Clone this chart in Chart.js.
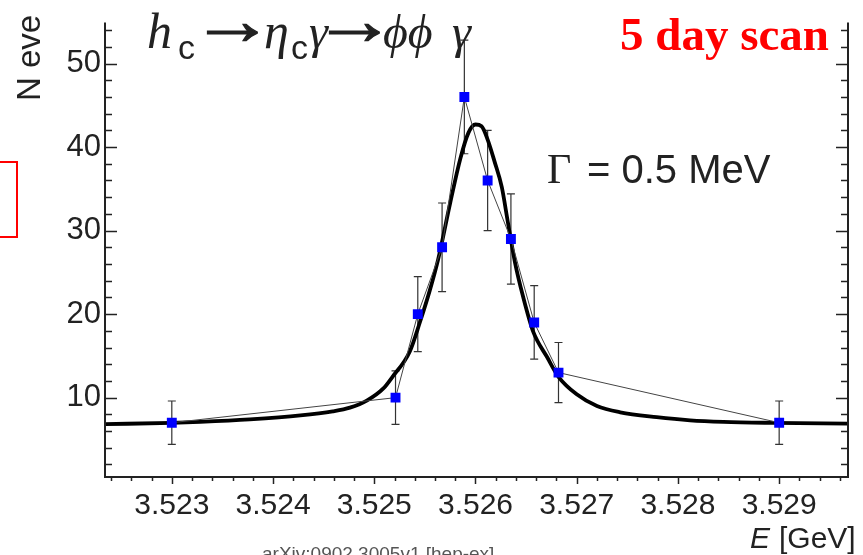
<!DOCTYPE html>
<html>
<head>
<meta charset="utf-8">
<script src="https://cdn.jsdelivr.net/npm/chart.js@4.4.1/dist/chart.umd.min.js"></script>
<style>
  html, body { margin: 0; padding: 0; background: #fff; }
  canvas { display: block; }
</style>
</head>
<body>
<canvas id="c" width="863" height="555"></canvas>
<script>
// measured scan points (E in GeV, events, error)
const scanE = [3.5230, 3.52521, 3.52543, 3.52567, 3.52589, 3.52612, 3.52635, 3.52658, 3.52682, 3.5290];
const scanN = [7, 10, 20, 28, 46, 36, 29, 19, 13, 7];
const scanErr = [2.6, 3.2, 4.5, 5.3, 6.8, 6.0, 5.4, 4.4, 3.6, 2.6];

// fitted line shape
const fitE = [3.52234, 3.52300, 3.52328, 3.52377, 3.52427, 3.52459, 3.52476, 3.52493, 3.52509, 3.52518,
              3.52535, 3.52545, 3.52555, 3.52563, 3.52575, 3.52585, 3.52593, 3.52600, 3.52606, 3.52612,
              3.52619, 3.52626, 3.52632, 3.52639, 3.52647, 3.52657, 3.52671, 3.52682, 3.52700, 3.52720,
              3.52743, 3.52779, 3.52812, 3.52845, 3.52894, 3.52968];
const fitN = [6.83, 6.98, 7.1, 7.4, 7.87, 8.36, 8.8, 9.67, 11.1, 12.5,
              15.5, 19.0, 22.9, 26.5, 33.3, 38.6, 41.7, 42.7, 42.5, 40.9,
              38.2, 35.2, 31.0, 26.2, 22.1, 17.9, 14.8, 12.5, 10.4, 9.0,
              8.25, 7.67, 7.29, 7.1, 6.98, 6.88];

const xTicks = [3.523, 3.524, 3.525, 3.526, 3.527, 3.528, 3.529];
const yTicks = [10, 20, 30, 40, 50];

const SANS = '"Liberation Sans", Arial, sans-serif';
const SERIF = '"Liberation Serif", "Times New Roman", serif';

function arrow(ctx, x0, w, base) {
    ctx.font = '46px ' + SERIF;
    const m = ctx.measureText('\u2192');
    const gw = m.actualBoundingBoxRight + m.actualBoundingBoxLeft;
    ctx.save();
    ctx.translate(x0, base);
    ctx.scale(w / gw, 1.5);
    ctx.lineWidth = 0.8;
    ctx.strokeStyle = ctx.fillStyle;
    ctx.fillText('\u2192', m.actualBoundingBoxLeft, 0);
    ctx.strokeText('\u2192', m.actualBoundingBoxLeft, 0);
    ctx.restore();
}

const decor = {
    id: 'decor',
    beforeDatasetsDraw(chart) {
        const { ctx, scales: { x, y } } = chart;
        ctx.save();
        ctx.strokeStyle = '#333';
        ctx.lineWidth = 1.2;
        scanE.forEach((e, i) => {
            const px = x.getPixelForValue(e);
            const top = y.getPixelForValue(scanN[i] + scanErr[i]);
            const bot = y.getPixelForValue(scanN[i] - scanErr[i]);
            ctx.beginPath();
            ctx.moveTo(px, top); ctx.lineTo(px, bot);
            ctx.moveTo(px - 4, top); ctx.lineTo(px + 4, top);
            ctx.moveTo(px - 4, bot); ctx.lineTo(px + 4, bot);
            ctx.stroke();
        });
        ctx.restore();
    },
    afterDraw(chart) {
        const { ctx, chartArea: a, scales: { x, y } } = chart;
        ctx.save();

        // frame
        ctx.strokeStyle = '#222';
        ctx.lineWidth = 2;
        ctx.beginPath();
        ctx.moveTo(a.left, a.top); ctx.lineTo(a.left, a.bottom); ctx.lineTo(a.right, a.bottom); ctx.lineTo(a.right, a.top);
        ctx.stroke();

        // y ticks, inside on both sides
        ctx.lineWidth = 1.5;
        for (let v = 2; v <= 54; v += 2) {
            const py = Math.round(y.getPixelForValue(v)) + 0.5;
            const len = v % 10 === 0 ? 12 : 7;
            ctx.beginPath();
            ctx.moveTo(a.left, py); ctx.lineTo(a.left + len, py);
            ctx.moveTo(a.right, py); ctx.lineTo(a.right - len, py);
            ctx.stroke();
        }
        // x ticks, below the axis
        for (let k = 0; k <= 37; k++) {
            const v = 3.5224 + k * 0.0002;
            if (v > x.max) break;
            const px = Math.round(x.getPixelForValue(v)) + 0.5;
            const major = Math.abs(v * 1000 - Math.round(v * 1000)) < 1e-6;
            ctx.beginPath();
            ctx.moveTo(px, a.bottom); ctx.lineTo(px, a.bottom + (major ? 7 : 4));
            ctx.stroke();
        }

        ctx.fillStyle = '#222';
        ctx.textBaseline = 'alphabetic';

        // y title (cut off in the original)
        ctx.save();
        ctx.translate(40, 101);
        ctx.rotate(-Math.PI / 2);
        ctx.font = '33px ' + SANS;
        ctx.textAlign = 'left';
        ctx.fillText('N eve', 0, 0);
        ctx.restore();

        // x title
        ctx.textAlign = 'left';
        ctx.font = 'italic 30px ' + SANS;
        ctx.fillText('E', 750, 548);
        ctx.font = '30px ' + SANS;
        ctx.fillText('[GeV]', 779, 548);

        // reaction label
        const base = 48;
        const parts = [
            ['h', 'italic 50px ' + SERIF, 147, 0],
            ['c', '34px ' + SANS, 178, 11],
            ['\u03b7', 'italic 50px ' + SERIF, 264, 0],
            ['c', '34px ' + SANS, 291, 11],
            ['\u03b3', 'italic 48px ' + SERIF, 309, 0],
            ['\u03d5\u03d5', 'italic 48px ' + SERIF, 383, 0],
            ['\u03b3', 'italic 48px ' + SERIF, 452, 0]
        ];
        parts.forEach(([t, f, px, dy]) => {
            ctx.font = f;
            ctx.fillText(t, px, base + dy);
        });
        arrow(ctx, 207, 51, 44);
        arrow(ctx, 329, 51, 44);

        // width label
        ctx.font = '42px ' + SERIF;
        ctx.fillText('\u0393', 547, 183);
        ctx.font = '40px ' + SANS;
        ctx.fillText('= 0.5 MeV', 587, 183);

        // scan label
        ctx.fillStyle = '#ff0000';
        ctx.font = 'bold 47px ' + SERIF;
        ctx.textAlign = 'right';
        ctx.fillText('5 day scan', 829, 50);

        // bottom stamp, cut off
        ctx.fillStyle = '#555';
        ctx.font = '19px ' + SANS;
        ctx.textAlign = 'left';
        ctx.fillText('arXiv:0902.3005v1 [hep-ex]', 262, 560);

        // red box at the left edge
        ctx.strokeStyle = '#ff0000';
        ctx.lineWidth = 2;
        ctx.strokeRect(-5, 162, 22, 75);

        ctx.restore();
    }
};

new Chart(document.getElementById('c'), {
    type: 'line',
    data: {
        datasets: [
            {
                data: fitE.map((e, i) => ({ x: e, y: fitN[i] })),
                borderColor: '#000', borderWidth: 3.8, pointRadius: 0,
                cubicInterpolationMode: 'monotone', order: 2
            },
            {
                data: scanE.map((e, i) => ({ x: e, y: scanN[i] })),
                borderColor: '#444', borderWidth: 1, tension: 0,
                pointStyle: 'rect', pointRadius: 7, pointBorderWidth: 0,
                pointBackgroundColor: '#0000ff', order: 1
            }
        ]
    },
    options: {
        responsive: false, animation: false,
        layout: { padding: { left: 0, right: 15, top: 8, bottom: 0 } },
        plugins: { legend: { display: false }, tooltip: { enabled: false } },
        scales: {
            x: {
                type: 'linear', min: 3.52234, max: 3.52968,
                afterBuildTicks: s => { s.ticks = xTicks.map(v => ({ value: v })); },
                afterFit: s => { s.height = 78; },
                grid: { display: false, drawTicks: false }, border: { display: false },
                ticks: { color: '#222', padding: 11, maxRotation: 0, font: { family: SANS, size: 30 },
                         callback: v => v.toFixed(3) }
            },
            y: {
                min: 0.5, max: 54.9,
                afterBuildTicks: s => { s.ticks = yTicks.map(v => ({ value: v })); },
                afterFit: s => { s.width = 105; },
                grid: { display: false, drawTicks: false }, border: { display: false },
                ticks: { color: '#222', padding: 4, font: { family: SANS, size: 31 } }
            }
        }
    },
    plugins: [decor]
});
</script>
</body>
</html>
